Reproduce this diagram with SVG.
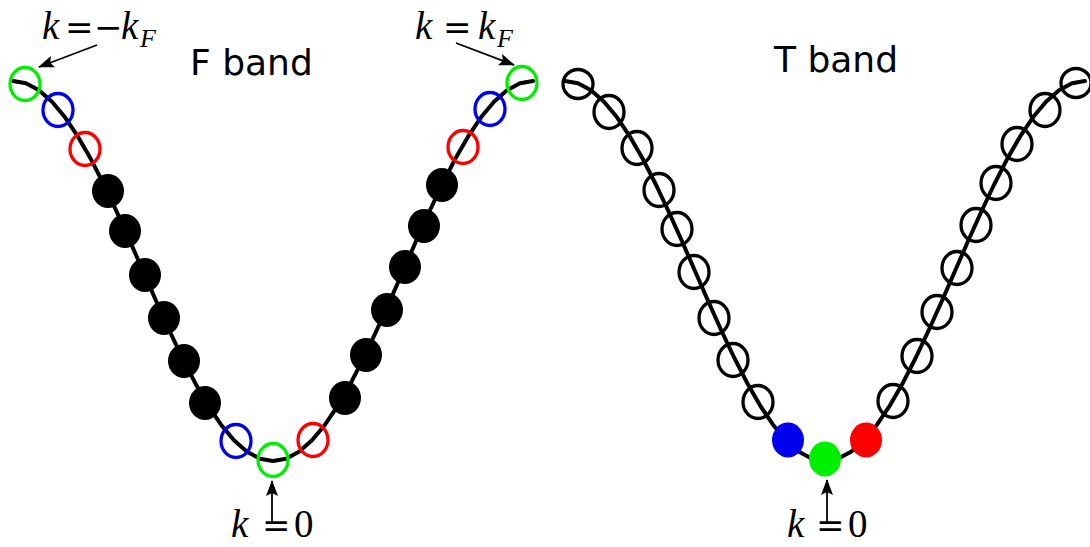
<svg xmlns="http://www.w3.org/2000/svg" width="1090" height="547" viewBox="0 0 1090 547">
<style>
.curve{fill:none;stroke:#000;stroke-width:4;stroke-linejoin:round;stroke-linecap:round}
.o{fill:none;stroke-width:3.3}
.ob{fill:none;stroke:#000;stroke-width:3.3}
.g{stroke:#00ee00}.b{stroke:#0000ee}.r{stroke:#ff0000}
.arr{stroke:#000;stroke-width:1.8;fill:none}
.title{font-family:"DejaVu Sans",sans-serif;font-size:36px;fill:#000}
.m{font-family:"Liberation Serif",serif;font-size:39px;fill:#000}
.it{font-style:italic}
.op{font-family:"DejaVu Serif",serif;font-size:34px}
</style>
<defs>
<marker id="ah" viewBox="0 0 16 12" refX="15" refY="6" markerWidth="16" markerHeight="12" markerUnits="userSpaceOnUse" orient="auto">
<path d="M0,0 L16,6 L0,12 L3,6 z" fill="#000"/>
</marker>
<polyline id="band" points="13,81 26,83.34 39,90.3 52,101.71 65,117.29 78,136.65 91,159.32 104,184.74 117,212.29 130,241.28 143,271 156,300.72 169,329.71 182,357.26 195,382.68 208,405.35 221,424.71 234,440.29 247,451.7 260,458.66 273,461 286,458.66 299,451.7 312,440.29 325,424.71 338,405.35 351,382.68 364,357.26 377,329.71 390,300.72 403,271 416,241.28 429,212.29 442,184.74 455,159.32 468,136.65 481,117.29 494,101.71 507,90.3 520,83.34 533,81"/>
</defs>

<g id="connectors">
<use href="#band" class="curve"/>
<use href="#band" class="curve" transform="translate(552,0)"/>
<line class="arr" x1="97" y1="45" x2="39" y2="67" marker-end="url(#ah)"/>
<line class="arr" x1="456" y1="43" x2="514" y2="65" marker-end="url(#ah)"/>
<line class="arr" x1="272" y1="524" x2="272" y2="481" marker-end="url(#ah)"/>
<line class="arr" x1="827" y1="522" x2="827" y2="480" marker-end="url(#ah)"/>
</g>

<g id="f-band">
<ellipse class="o g" cx="25" cy="84" rx="15" ry="16.5"/>
<ellipse class="o b" cx="58" cy="110" rx="15" ry="16.5"/>
<ellipse class="o r" cx="85" cy="149" rx="15" ry="16.5"/>
<ellipse cx="108" cy="191" rx="16" ry="17"/>
<ellipse cx="125" cy="231" rx="16" ry="17"/>
<ellipse cx="145" cy="275" rx="16" ry="17"/>
<ellipse cx="164" cy="318" rx="16" ry="17"/>
<ellipse cx="184" cy="361" rx="16" ry="17"/>
<ellipse cx="205" cy="403" rx="16" ry="17"/>
<ellipse class="o b" cx="236" cy="441" rx="15" ry="16.5"/>
<ellipse class="o g" cx="273" cy="460" rx="15" ry="16.5"/>
<ellipse class="o r" cx="313" cy="440" rx="15" ry="16.5"/>
<ellipse cx="345" cy="398" rx="16" ry="17"/>
<ellipse cx="366" cy="355" rx="16" ry="17"/>
<ellipse cx="387" cy="310" rx="16" ry="17"/>
<ellipse cx="405" cy="267" rx="16" ry="17"/>
<ellipse cx="424" cy="226" rx="16" ry="17"/>
<ellipse cx="442" cy="185" rx="16" ry="17"/>
<ellipse class="o r" cx="463" cy="147" rx="15" ry="16.5"/>
<ellipse class="o b" cx="490" cy="109" rx="15" ry="16.5"/>
<ellipse class="o g" cx="522" cy="83" rx="15" ry="16.5"/>
</g>

<g id="t-band">
<ellipse class="ob" cx="578" cy="84" rx="15" ry="14.5"/>
<ellipse class="ob" cx="609" cy="112" rx="15" ry="16.5"/>
<ellipse class="ob" cx="637" cy="148" rx="15" ry="16.5"/>
<ellipse class="ob" cx="659" cy="190" rx="15" ry="16.5"/>
<ellipse class="ob" cx="677" cy="229" rx="15" ry="16.5"/>
<ellipse class="ob" cx="694" cy="272" rx="15" ry="16.5"/>
<ellipse class="ob" cx="714" cy="318" rx="15" ry="16.5"/>
<ellipse class="ob" cx="733" cy="360" rx="15" ry="16.5"/>
<ellipse class="ob" cx="758" cy="402" rx="15" ry="16.5"/>
<ellipse cx="788" cy="440" rx="16" ry="17.5" fill="#0000ee"/>
<ellipse cx="825" cy="459" rx="16" ry="17.5" fill="#00ee00"/>
<ellipse cx="866" cy="440" rx="16" ry="17.5" fill="#ff0000"/>
<ellipse class="ob" cx="893" cy="401" rx="15" ry="16.5"/>
<ellipse class="ob" cx="917" cy="356" rx="15" ry="16.5"/>
<ellipse class="ob" cx="937" cy="312" rx="15" ry="16.5"/>
<ellipse class="ob" cx="957" cy="268" rx="15" ry="16.5"/>
<ellipse class="ob" cx="976" cy="225" rx="15" ry="16.5"/>
<ellipse class="ob" cx="996" cy="183" rx="15" ry="16.5"/>
<ellipse class="ob" cx="1017" cy="144" rx="15" ry="16.5"/>
<ellipse class="ob" cx="1045" cy="110" rx="15" ry="16.5"/>
<ellipse class="ob" cx="1076" cy="83" rx="15" ry="14.5"/>
</g>

<g id="labels">
<text class="title" x="190" y="75">F band</text>
<text class="title" x="774" y="72">T band</text>
<text class="m" y="39"><tspan class="it" x="42">k</tspan><tspan class="op" x="65">=</tspan><tspan class="op" x="94">−</tspan><tspan class="it" x="121">k</tspan><tspan class="it" x="140" y="47" font-size="26">F</tspan></text>
<text class="m" y="39"><tspan class="it" x="415">k</tspan><tspan class="op" x="443">=</tspan><tspan class="it" x="478">k</tspan><tspan class="it" x="497" y="47" font-size="26">F</tspan></text>
<text class="m" y="537"><tspan class="it" x="231">k</tspan><tspan class="op" x="262">=</tspan><tspan x="294">0</tspan></text>
<text class="m" y="537"><tspan class="it" x="787">k</tspan><tspan class="op" x="816">=</tspan><tspan x="848">0</tspan></text>
</g>
</svg>
